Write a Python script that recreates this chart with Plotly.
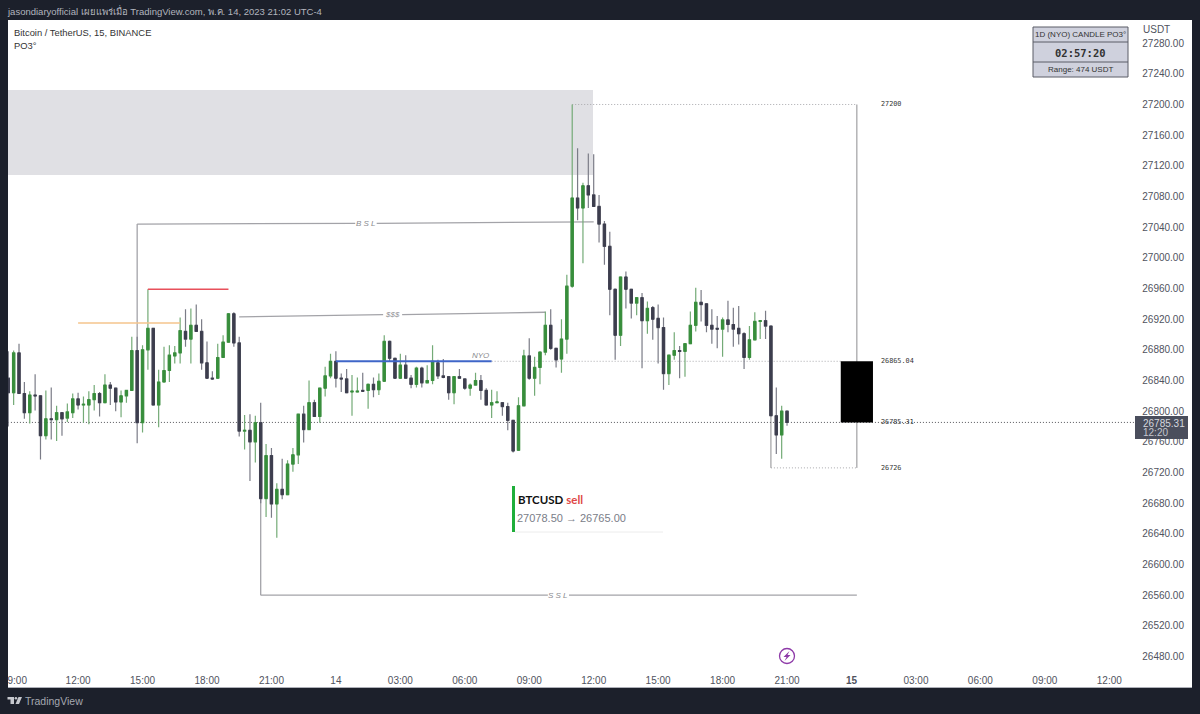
import pandas as pd
import plotly.graph_objects as go

FONT = "Liberation Sans"
DARK_BG = "#1c202b"
UP = "#388e3c"
DOWN = "#3d3e4e"
UP_WICK = "#74ab77"
DOWN_WICK = "#7b7c87"
TICK_COLOR = "#50535e"

# 15 minute bars, BTCUSDT, 13 May 08:45 -> 14 May 21:00
times = pd.date_range("2023-05-13 08:45", periods=146, freq="15min")

opens = [
    26843, 26824, 26876, 26823, 26798, 26821, 26820, 26768, 26790, 26789, 26798, 26791, 26798, 26816, 26808,
    26808, 26815, 26823, 26811, 26834, 26830, 26812, 26820, 26827, 26879,
    26785, 26880, 26908, 26808, 26838, 26853, 26872, 26876, 26904, 26894, 26912, 26904, 26863, 26843, 26843,
    26870, 26890, 26927, 26889, 26774, 26775, 26760, 26785, 26686, 26742, 26679, 26698, 26691, 26731, 26743,
    26796, 26776, 26811, 26793, 26830, 26846, 26865, 26843, 26842, 26825, 26825, 26827, 26827, 26835, 26828,
    26839, 26891, 26869, 26843, 26860, 26843, 26835, 26856, 26837, 26840, 26863, 26846, 26845, 26824, 26845,
    26842, 26830, 26834, 26840, 26827, 26808, 26811, 26811, 26806, 26788, 26749, 26807, 26872, 26843, 26857,
    26877, 26912, 26882, 26868, 26894, 26963, 27078, 27065, 27094, 27082, 27067, 27044, 27015, 26959, 26899,
    26975, 26959, 26941, 26948, 26918, 26935, 26921, 26909, 26849, 26873, 26879, 26878, 26888, 26912, 26942,
    26940, 26912, 26908, 26907, 26919, 26913, 26908, 26901, 26870, 26893, 26917, 26918, 26911, 26794, 26769, 26800,
]
highs = [
    26878, 26879, 26888, 26838, 26826, 26848, 26820, 26827, 26831, 26807, 26799, 26810, 26823, 26824, 26819,
    26826, 26834, 26825, 26848, 26838, 26831, 26827, 26828, 26897, 26897,
    26886, 26959, 26908, 26854, 26884, 26886, 26885, 26922, 26933, 26934, 26939, 26920, 26891, 26852, 26888,
    26899, 26928, 26929, 26897, 26795, 26796, 26794, 26811, 26757, 26752, 26706, 26738, 26736, 26752, 26796,
    26807, 26840, 26815, 26831, 26858, 26875, 26878, 26849, 26855, 26847, 26844, 26850, 26836, 26844, 26849,
    26899, 26892, 26869, 26875, 26873, 26847, 26858, 26858, 26860, 26886, 26867, 26868, 26846, 26845, 26855,
    26843, 26836, 26850, 26847, 26830, 26828, 26826, 26812, 26811, 26788, 26818, 26880, 26895, 26871, 26878,
    26930, 26933, 26882, 26920, 26978, 27200, 27143, 27098, 27136, 27135, 27082, 27048, 27034, 26960, 26975,
    26982, 26959, 26948, 26954, 26943, 26937, 26939, 26922, 26873, 26903, 26885, 26888, 26930, 26961, 26958,
    26940, 26933, 26924, 26922, 26944, 26935, 26937, 26903, 26911, 26929, 26918, 26931, 26911, 26831, 26807, 26800,
]
lows = [
    26780, 26808, 26823, 26790, 26784, 26801, 26737, 26763, 26763, 26761, 26768, 26786, 26791, 26802, 26785,
    26783, 26801, 26793, 26811, 26808, 26800, 26792, 26811, 26827, 26758,
    26772, 26854, 26808, 26779, 26838, 26838, 26862, 26862, 26884, 26862, 26904, 26854, 26842, 26841, 26842,
    26870, 26890, 26884, 26767, 26750, 26709, 26733, 26680, 26662, 26661, 26635, 26685, 26691, 26721, 26731,
    26759, 26776, 26793, 26785, 26819, 26843, 26831, 26825, 26824, 26794, 26825, 26825, 26803, 26818, 26821,
    26838, 26865, 26842, 26842, 26843, 26830, 26831, 26831, 26837, 26835, 26842, 26843, 26815, 26809, 26843,
    26828, 26820, 26833, 26815, 26808, 26791, 26811, 26794, 26775, 26746, 26748, 26807, 26841, 26820, 26835,
    26873, 26880, 26857, 26850, 26875, 26961, 27049, 26993, 27065, 27067, 27020, 26991, 26925, 26867, 26885,
    26934, 26921, 26925, 26856, 26901, 26893, 26862, 26828, 26834, 26867, 26843, 26845, 26888, 26904, 26917,
    26903, 26888, 26882, 26871, 26903, 26884, 26887, 26855, 26867, 26893, 26894, 26894, 26794, 26744, 26738, 26781,
]
closes = [
    26824, 26876, 26823, 26798, 26821, 26820, 26768, 26790, 26789, 26798, 26790, 26799, 26816, 26808, 26809,
    26815, 26823, 26811, 26834, 26830, 26812, 26820, 26827, 26879, 26785,
    26880, 26908, 26808, 26838, 26853, 26873, 26876, 26905, 26894, 26912, 26904, 26863, 26843, 26842, 26870,
    26890, 26927, 26889, 26774, 26775, 26760, 26785, 26686, 26742, 26679, 26698, 26691, 26731, 26743, 26796,
    26776, 26811, 26793, 26830, 26846, 26865, 26843, 26842, 26824, 26826, 26826, 26826, 26835, 26828, 26839,
    26891, 26869, 26843, 26860, 26843, 26835, 26856, 26837, 26840, 26865, 26846, 26844, 26824, 26845, 26843,
    26830, 26834, 26840, 26827, 26808, 26811, 26812, 26806, 26788, 26748, 26807, 26872, 26843, 26857, 26877,
    26912, 26882, 26867, 26894, 26963, 27078, 27065, 27094, 27082, 27067, 27044, 27015, 26959, 26899, 26975,
    26959, 26941, 26948, 26918, 26934, 26920, 26909, 26849, 26873, 26879, 26878, 26888, 26912, 26942, 26939,
    26912, 26907, 26907, 26919, 26913, 26907, 26901, 26870, 26893, 26917, 26918, 26911, 26794, 26769, 26800, 26785.31,
]

# drawn levels
RANGE_HIGH = 27200
RANGE_LOW = 26726
NY_OPEN = 26865.04
LAST_PRICE = 26785.31
SSL_LEVEL = 26560
RED_LEVEL = 26959
ORANGE_LEVEL = 26915
ZONE_TOP = 27219
ZONE_BOTTOM = 27108

x_tick_vals = [
    "2023-05-13 09:10", "2023-05-13 12:00", "2023-05-13 15:00", "2023-05-13 18:00", "2023-05-13 21:00",
    "2023-05-14 00:00", "2023-05-14 03:00", "2023-05-14 06:00", "2023-05-14 09:00", "2023-05-14 12:00",
    "2023-05-14 15:00", "2023-05-14 18:00", "2023-05-14 21:00", "2023-05-15 00:00", "2023-05-15 03:00",
    "2023-05-15 06:00", "2023-05-15 09:00", "2023-05-15 12:00",
]
x_tick_text = [
    "9:00", "12:00", "15:00", "18:00", "21:00", "14", "03:00", "06:00", "09:00", "12:00",
    "15:00", "18:00", "21:00", "<b>15</b>", "03:00", "06:00", "09:00", "12:00",
]

DOT = "1px,2px"


def px(x):
    return (x - 8) / 1184


def py(y):
    return (687 - y) / 667


def level_line(x0, y0, x1, y1, color="#a3a3a8", width=1.3, dash="solid", layer="below"):
    return dict(type="line", xref="x", yref="y", x0=x0, y0=y0, x1=x1, y1=y1, layer=layer,
                line=dict(color=color, width=width, dash=dash))


def page_rect(x0, y0, x1, y1, fill, line_color=None):
    return dict(type="rect", xref="paper", yref="paper", x0=px(x0), x1=px(x1), y0=py(y0), y1=py(y1),
                fillcolor=fill, line=dict(color=line_color or fill, width=1 if line_color else 0), layer="above")


def page_path(points, fill, line_color=None):
    path = "M" + " L".join(f"{px(a):.5f},{py(b):.5f}" for a, b in points) + " Z"
    return dict(type="path", xref="paper", yref="paper", path=path, fillcolor=fill,
                line=dict(color=line_color or fill, width=0), layer="above")


def page_text(x, y, text, size=10.5, color="#333333", anchor="left", font=FONT):
    return dict(xref="paper", yref="paper", x=px(x - 1), y=py(y), text=text, showarrow=False,
                xanchor=anchor, yanchor="middle", borderpad=0, font=dict(family=font, size=size, color=color))


def chart_text(x, y, text, size=8, color="#8b8b90", anchor="center", font=FONT):
    return dict(xref="x", yref="y", x=x, y=y, text=text, showarrow=False,
                xanchor=anchor, yanchor="middle", borderpad=0, font=dict(family=font, size=size, color=color))


fig = go.Figure()

# wicks
fig.add_trace(go.Candlestick(
    x=times, open=opens, high=highs, low=lows, close=closes,
    whiskerwidth=0,
    increasing=dict(line=dict(color=UP_WICK, width=1.2), fillcolor=UP_WICK),
    decreasing=dict(line=dict(color=DOWN_WICK, width=1.2), fillcolor=DOWN_WICK),
    hoverinfo="skip", showlegend=False,
))
# bodies on top, same opens and closes without the shadows
fig.add_trace(go.Candlestick(
    x=times, open=opens, close=closes,
    high=[max(o, c) for o, c in zip(opens, closes)],
    low=[min(o, c) for o, c in zip(opens, closes)],
    whiskerwidth=0,
    increasing=dict(line=dict(color=UP, width=1), fillcolor=UP),
    decreasing=dict(line=dict(color=DOWN, width=1), fillcolor=DOWN),
    showlegend=False,
))

shapes = [
    # supply zone
    dict(type="rect", xref="paper", yref="y", x0=0, x1=px(593), y0=ZONE_BOTTOM, y1=ZONE_TOP,
         fillcolor="#e0e0e4", line=dict(width=0), layer="below"),
    # BSL
    level_line("2023-05-13 14:45", 26785, "2023-05-13 14:45", 27044),
    level_line("2023-05-13 14:45", 27044, "2023-05-14 00:54", 27045),
    level_line("2023-05-14 01:54", 27045, "2023-05-14 12:00", 27047),
    # $$$
    level_line("2023-05-13 19:30", 26923, "2023-05-14 02:12", 26926),
    level_line("2023-05-14 03:05", 26926, "2023-05-14 09:45", 26929),
    # SSL
    level_line("2023-05-13 20:30", 26686, "2023-05-13 20:30", SSL_LEVEL),
    level_line("2023-05-13 20:30", SSL_LEVEL, "2023-05-14 09:52", SSL_LEVEL),
    level_line("2023-05-14 10:51", SSL_LEVEL, "2023-05-15 00:15", SSL_LEVEL),
    # highs and the orange level
    level_line("2023-05-13 15:15", RED_LEVEL, "2023-05-13 19:00", RED_LEVEL, color="#e8505b", layer="above"),
    level_line("2023-05-13 12:00", ORANGE_LEVEL, "2023-05-13 16:45", ORANGE_LEVEL, color="#f5c58c", layer="above"),
    # NY open
    level_line("2023-05-14 00:00", NY_OPEN, "2023-05-14 07:15", NY_OPEN, color="#3f66c8", width=2, layer="above"),
    level_line("2023-05-14 07:15", NY_OPEN, "2023-05-14 23:30", NY_OPEN, color="#a9a9ad", width=1, dash=DOT),
    # day candle overlay
    level_line("2023-05-14 11:00", RANGE_HIGH, "2023-05-15 00:15", RANGE_HIGH, color="#a9a9ad", width=1, dash=DOT),
    level_line("2023-05-14 20:15", RANGE_LOW, "2023-05-15 00:15", RANGE_LOW, color="#a9a9ad", width=1, dash=DOT),
    level_line("2023-05-14 20:15", RANGE_LOW, "2023-05-14 20:15", 26794, color="#8d8d90", width=1),
    level_line("2023-05-15 00:15", RANGE_LOW, "2023-05-15 00:15", RANGE_HIGH, color="#8d8d90", width=1),
    dict(type="rect", xref="x", yref="y", x0="2023-05-14 23:30", x1="2023-05-15 01:00", y0=LAST_PRICE, y1=NY_OPEN,
         fillcolor="#000000", line=dict(width=0), layer="above"),
    # last price line
    level_line("2023-05-13 08:44", LAST_PRICE, "2023-05-15 13:15", LAST_PRICE, color="#55565c", width=1, dash=DOT),
    # last price tag
    page_rect(1135, 416, 1188, 439, "#4a4e5c"),
    # indicator table
    page_rect(1033, 27, 1128, 77, "#cfd1dd", "#5a5c66"),
    dict(type="line", xref="paper", yref="paper", x0=px(1033), x1=px(1128), y0=py(42), y1=py(42),
         line=dict(color="#5a5c66", width=1), layer="above"),
    dict(type="line", xref="paper", yref="paper", x0=px(1033), x1=px(1128), y0=py(62), y1=py(62),
         line=dict(color="#5a5c66", width=1), layer="above"),
    # signal card
    page_rect(512, 486, 515, 532, "#1fae3a"),
    dict(type="line", xref="paper", yref="paper", x0=px(515), x1=px(663), y0=py(532), y1=py(532),
         line=dict(color="#ececec", width=1), layer="below"),
    # session break marker
    dict(type="circle", xref="paper", yref="paper", x0=px(779.5), x1=px(794.5), y0=py(648.5), y1=py(663.5),
         line=dict(color="#8e3aa8", width=1.3), layer="above"),
    page_path([(789.5, 651), (783.5, 657), (786.5, 657), (784.5, 661), (790.5, 655), (787.5, 655)], "#8e3aa8"),
    # footer logo
    page_path([(7.5, 697), (14, 697), (14, 704), (10.5, 704), (10.5, 699.5), (7.5, 699.5)], "#c6c8ce"),
    page_path([(18.5, 697), (22, 697), (19, 704), (15.5, 704)], "#c6c8ce"),
    dict(type="circle", xref="paper", yref="paper", x0=px(14.6), x1=px(17.2), y0=py(697), y1=py(699.6),
         fillcolor="#c6c8ce", line=dict(width=0), layer="above"),
]

annotations = [
    page_text(7, 11, "jasondiaryofficial เผยแพร่เมื่อ TradingView.com, พ.ค. 14, 2023 21:02 UTC-4",
              color="#b2b5be", size=9.5),
    page_text(14, 32, "Bitcoin / TetherUS, 15, BINANCE", size=9.4),
    page_text(14, 45, "PO3°", size=9.4),
    page_text(1143, 30, "USDT", size=10, color=TICK_COLOR),
    page_text(1081, 35, "1D (NYO) CANDLE PO3°", size=8, anchor="center"),
    page_text(1081, 52.5, "<b>02:57:20</b>", size=10.5, anchor="center", font="DejaVu Sans Mono"),
    page_text(1081, 70, "Range: 474 USDT", size=8, anchor="center"),
    page_text(1143, 423, "26785.31", size=10, color="#d5d7de"),
    page_text(1143, 433, "12:20", size=10, color="#c4c6ce"),
    page_text(518, 500, "<b>BTCUSD</b> <b style='color:#e04848'>sell</b>", size=11.5, color="#111111",
              font="Lato"),
    page_text(517, 518, "27078.50 → 26765.00", size=11, color="#7a7d88"),
    page_text(25, 701, "TradingView", size=10.5, color="#a5a8b0"),
    chart_text("2023-05-14 01:24", 27045, "<i>B S L</i>"),
    chart_text("2023-05-14 02:38", 26926, "<i>$$$</i>"),
    chart_text("2023-05-14 10:21", SSL_LEVEL, "<i>S S L</i>"),
    chart_text("2023-05-14 06:45", 26873, "<i>NYO</i>"),
]
for price, label in [(RANGE_HIGH, "27200"), (NY_OPEN, "26865.04"), (LAST_PRICE, "26785.31"), (RANGE_LOW, "26726")]:
    annotations.append(chart_text("2023-05-15 01:19", price, label, size=6.8, color="#333333",
                                  anchor="left", font="DejaVu Sans Mono"))

fig.update_layout(
    width=1200,
    height=714,
    margin=dict(l=8, r=8, t=20, b=27),
    paper_bgcolor=DARK_BG,
    plot_bgcolor="#ffffff",
    boxgap=0.4,
    showlegend=False,
    shapes=shapes,
    annotations=annotations,
    font=dict(family=FONT, color=TICK_COLOR, size=10),
    xaxis=dict(
        type="date",
        range=["2023-05-13 08:44:15", "2023-05-15 15:51"],
        rangeslider=dict(visible=False),
        automargin=False,
        tickmode="array",
        tickvals=x_tick_vals,
        ticktext=x_tick_text,
        ticklabelposition="inside",
        ticklabeloverflow="allow",
        showgrid=False,
        zeroline=False,
        showline=True,
        linecolor="#aeb0b8",
        linewidth=1,
        ticks="",
        tickfont=dict(color=TICK_COLOR, size=10),
    ),
    yaxis=dict(
        side="right",
        range=[26440.2, 27310.2],
        automargin=False,
        tick0=26480,
        dtick=40,
        tickformat=".2f",
        ticklabelposition="inside",
        ticklabeloverflow="allow",
        ticklabelstandoff=5,
        showgrid=False,
        zeroline=False,
        showline=False,
        ticks="",
        tickfont=dict(color=TICK_COLOR, size=10),
    ),
)

fig.write_html("out.html", config=dict(displayModeBar=False),
               post_script="document.body.style.margin = '0';")
